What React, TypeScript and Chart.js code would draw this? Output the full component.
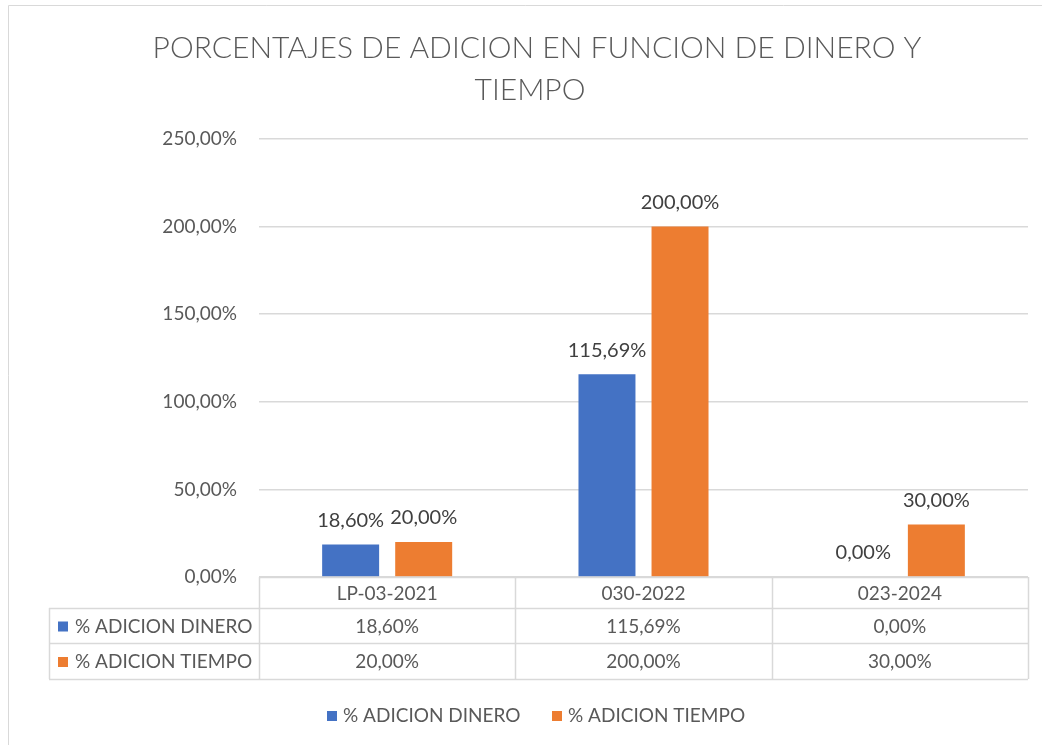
import React, { useEffect, useRef } from "react";
import { Chart, registerables } from "chart.js";

Chart.register(...registerables);

const TITLE_LINES = ["PORCENTAJES DE ADICION EN FUNCION DE DINERO Y", "TIEMPO"];
const CATEGORIES = ["LP-03-2021", "030-2022", "023-2024"];
const SERIES_NAMES = ["% ADICION DINERO", "% ADICION TIEMPO"];
const DINERO = [18.6, 115.69, 0];
const TIEMPO = [20, 200, 30];
const Y_MIN = 0;
const Y_MAX = 250;
const Y_STEP = 50;
const COLORS = ["#4472C4", "#ED7D31"];

const FONT = "Lato, 'Open Sans', sans-serif";
const TEXT = "#595959";
const LINE = "#d9d9d9";

const fmt = (v: number) => v.toFixed(2).replace(".", ",") + "%";

const decorPlugin = {
  id: "decor",
  afterDraw(chart: any) {
    const ctx = chart.ctx as CanvasRenderingContext2D;
    const area = chart.chartArea;
    const xs = chart.scales.x;
    ctx.save();

    // outer frame
    ctx.strokeStyle = LINE;
    ctx.lineWidth = 1;
    ctx.beginPath();
    ctx.moveTo(8.5, 745);
    ctx.lineTo(8.5, 5.5);
    ctx.lineTo(1042, 5.5);
    ctx.stroke();

    // title
    ctx.fillStyle = TEXT;
    ctx.font = `300 30px ${FONT}`;
    ctx.textAlign = "center";
    ctx.textBaseline = "middle";
    ctx.fillText(TITLE_LINES[0], 537, 48);
    ctx.fillText(TITLE_LINES[1], 530, 90);

    // data labels
    ctx.font = `20px ${FONT}`;
    ctx.fillStyle = "#404040";
    chart.data.datasets.forEach((ds: any, di: number) => {
      const meta = chart.getDatasetMeta(di);
      meta.data.forEach((bar: any, i: number) => {
        ctx.fillText(fmt(ds.data[i]), bar.x, bar.y - 24);
      });
    });

    // data table
    const top = area.bottom;
    const rowH = [31, 35, 36];
    const r1 = top + rowH[0];
    const r2 = r1 + rowH[1];
    const r3 = r2 + rowH[2];
    const tableLeft = 49;
    const n = CATEGORIES.length;
    const catW = (area.right - area.left) / n;
    const bounds: number[] = [];
    for (let i = 0; i <= n; i++) bounds.push(area.left + catW * i);

    ctx.strokeStyle = LINE;
    ctx.lineWidth = 1.5;
    ctx.beginPath();
    ctx.moveTo(area.left, top + 0.5);
    ctx.lineTo(area.right, top + 0.5);
    [r1, r2, r3].forEach((y) => {
      ctx.moveTo(tableLeft, y + 0.5);
      ctx.lineTo(area.right, y + 0.5);
    });
    bounds.forEach((x) => {
      ctx.moveTo(Math.round(x) + 0.5, top);
      ctx.lineTo(Math.round(x) + 0.5, r3);
    });
    ctx.moveTo(tableLeft + 0.5, r1);
    ctx.lineTo(tableLeft + 0.5, r3);
    ctx.stroke();

    ctx.fillStyle = TEXT;
    ctx.font = `19px ${FONT}`;
    ctx.textAlign = "center";
    CATEGORIES.forEach((c, i) => {
      const cx = xs.getPixelForValue(i);
      ctx.fillText(c, cx, (top + r1) / 2 + 1);
    });
    const rows = [DINERO, TIEMPO];
    const rowTops = [r1, r2];
    const rowBots = [r2, r3];
    rows.forEach((vals, ri) => {
      const cy = (rowTops[ri] + rowBots[ri]) / 2 + 1;
      vals.forEach((v, i) => {
        ctx.fillStyle = TEXT;
        ctx.textAlign = "center";
        ctx.fillText(fmt(v), xs.getPixelForValue(i), cy);
      });
      ctx.fillStyle = COLORS[ri];
      ctx.fillRect(58, cy - 5, 10, 10);
      ctx.fillStyle = TEXT;
      ctx.textAlign = "left";
      ctx.fillText(SERIES_NAMES[ri], 75, cy);
    });

    // legend
    const ly = 716;
    ctx.font = `19px ${FONT}`;
    ctx.textAlign = "left";
    const legendX = [327, 552];
    SERIES_NAMES.forEach((name, i) => {
      ctx.fillStyle = COLORS[i];
      ctx.fillRect(legendX[i], ly - 5, 10, 10);
      ctx.fillStyle = TEXT;
      ctx.fillText(name, legendX[i] + 16, ly);
    });

    ctx.restore();
  },
};

export default function App() {
  const ref = useRef<HTMLCanvasElement>(null);
  useEffect(() => {
    document.body.style.margin = "0";
    const chart = new Chart(ref.current as HTMLCanvasElement, {
      type: "bar",
      data: {
        labels: CATEGORIES,
        datasets: [
          {
            label: SERIES_NAMES[0],
            data: DINERO,
            backgroundColor: COLORS[0],
            categoryPercentage: 0.57,
            barPercentage: 0.78,
          },
          {
            label: SERIES_NAMES[1],
            data: TIEMPO,
            backgroundColor: COLORS[1],
            categoryPercentage: 0.57,
            barPercentage: 0.78,
          },
        ],
      },
      options: {
        responsive: false,
        animation: false,
        layout: { padding: { top: 139, left: 0, right: 14, bottom: 168 } },
        plugins: {
          legend: { display: false },
          title: { display: false },
          tooltip: { enabled: false },
        },
        scales: {
          x: { display: false },
          y: {
            min: Y_MIN,
            max: Y_MAX,
            ticks: {
              stepSize: Y_STEP,
              padding: 22,
              color: TEXT,
              font: { family: FONT, size: 19 },
              callback: (v: any) => fmt(Number(v)),
            },
            grid: { color: LINE, lineWidth: 1.5, drawTicks: false },
            border: { display: false },
            afterFit: (scale: any) => {
              scale.width = 259;
            },
          },
        },
      },
      plugins: [decorPlugin],
    });
    return () => chart.destroy();
  }, []);
  return (
    <canvas
      ref={ref}
      width={1042}
      height={745}
      style={{ display: "block", width: 1042, height: 745 }}
    />
  );
}
